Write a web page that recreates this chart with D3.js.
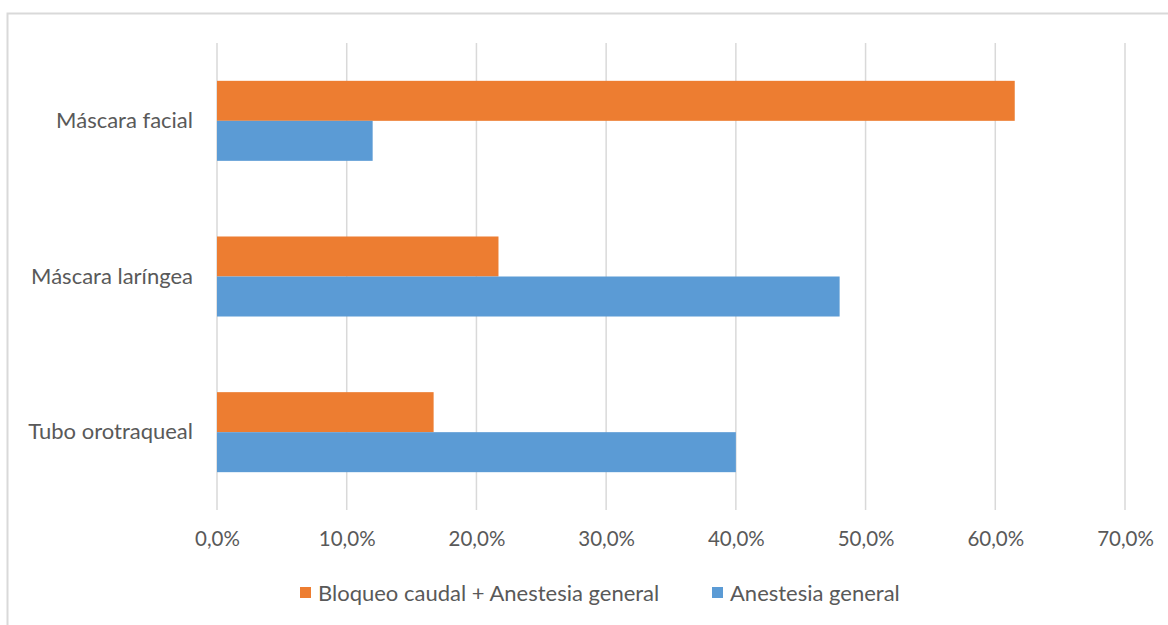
<!DOCTYPE html>
<html>
<head>
<meta charset="utf-8">
<script src="https://cdn.jsdelivr.net/npm/d3@7"></script>
<style>
  html, body { margin: 0; padding: 0; background: #fff; }
  svg { display: block; }
  text { font-family: Lato, "Open Sans", sans-serif; fill: #595959; }
</style>
</head>
<body>
<svg id="chart" width="1168" height="625"></svg>
<script>
// Categories, top to bottom
const categories = ["Máscara facial", "Máscara laríngea", "Tubo orotraqueal"];
// Series names (legend order)
const seriesNames = ["Bloqueo caudal + Anestesia general", "Anestesia general"];
const seriesColors = ["#ED7D31", "#5B9BD5"];
// Percent values per category
const bloqueoValues = [61.5, 21.7, 16.7];
const generalValues = [12.0, 48.0, 40.0];
// Axis ticks
const tickValues = [0, 10, 20, 30, 40, 50, 60, 70];

const svg = d3.select("#chart");

// Outer chart frame
svg.append("rect")
  .attr("x", 7.5).attr("y", 13.5)
  .attr("width", 1200).attr("height", 700)
  .attr("fill", "none").attr("stroke", "#d9d9d9").attr("stroke-width", 2);

const plot = { left: 217, right: 1125, top: 43, bottom: 510 };

const x = d3.scaleLinear().domain([0, 70]).range([plot.left, plot.right]);
const y = d3.scaleBand().domain(categories)
  .range([plot.top, plot.bottom])
  .paddingInner(0.486).paddingOuter(0.243);
const ySub = d3.scaleBand().domain(seriesNames).range([0, y.bandwidth()]);

// Vertical gridlines
svg.append("g").selectAll("line").data(tickValues).join("line")
  .attr("x1", d => x(d)).attr("x2", d => x(d))
  .attr("y1", plot.top).attr("y2", plot.bottom)
  .attr("stroke", "#d9d9d9").attr("stroke-width", 1.5);

// Bottom axis labels
const fmt = v => v.toFixed(1).replace(".", ",") + "%";
const xAxis = d3.axisBottom(x).tickValues(tickValues).tickFormat(fmt).tickSize(0).tickPadding(0);
const xg = svg.append("g").attr("transform", `translate(0,${plot.bottom + 36})`).call(xAxis);
xg.select(".domain").remove();
xg.selectAll("text").attr("dy", 0).attr("font-size", 20.5).attr("fill", "#595959")
  .style("font-family", "Lato, 'Open Sans', sans-serif");

// Category labels
const yAxis = d3.axisLeft(y).tickSize(0).tickPadding(24);
const yg = svg.append("g").attr("transform", `translate(${plot.left},0)`).call(yAxis);
yg.select(".domain").remove();
yg.selectAll("text").attr("font-size", 22).attr("fill", "#595959")
  .style("font-family", "Lato, 'Open Sans', sans-serif");

// Bars
const rows = categories.map((c, i) => ({ cat: c, vals: [bloqueoValues[i], generalValues[i]] }));
const groups = svg.append("g").selectAll("g").data(rows).join("g")
  .attr("transform", d => `translate(0,${y(d.cat)})`);
groups.selectAll("rect").data(d => d.vals.map((v, j) => ({ v, j }))).join("rect")
  .attr("x", x(0))
  .attr("y", d => ySub(seriesNames[d.j]))
  .attr("width", d => x(d.v) - x(0))
  .attr("height", ySub.bandwidth())
  .attr("fill", d => seriesColors[d.j]);

// Legend
const legendItems = [
  { name: seriesNames[0], color: seriesColors[0], x: 300 },
  { name: seriesNames[1], color: seriesColors[1], x: 712 }
];
const lg = svg.append("g").selectAll("g").data(legendItems).join("g")
  .attr("transform", d => `translate(${d.x},593)`);
lg.append("rect").attr("x", 0).attr("y", -6).attr("width", 11).attr("height", 11)
  .attr("fill", d => d.color);
lg.append("text").attr("x", 18).attr("y", 7.5).attr("font-size", 22)
  .text(d => d.name);
</script>
</body>
</html>
